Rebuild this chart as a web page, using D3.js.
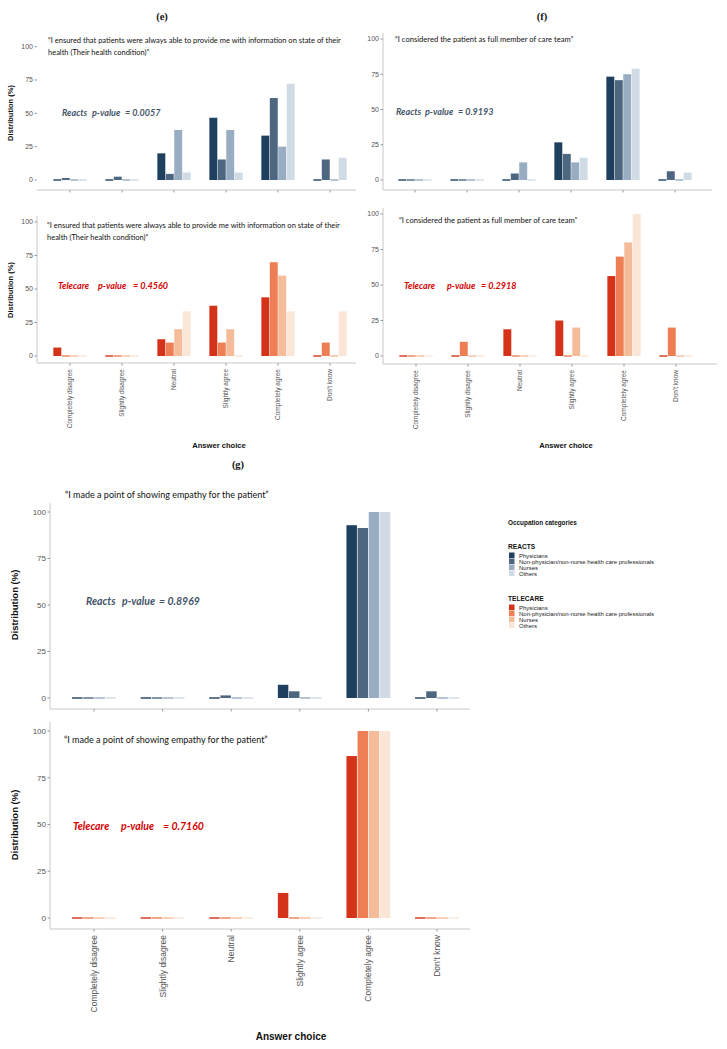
<!DOCTYPE html>
<html><head><meta charset="utf-8">
<script src="https://cdn.jsdelivr.net/npm/d3@7"></script>
<style>body{margin:0;background:#fff}svg{display:block}</style>
</head><body>
<script>
// ---------- DATA ----------
const categories = ["Completely disagree","Slightly disagree","Neutral","Slightly agree","Completely agree","Don't know"];
const occupations = ["Physicians","Non-physician/non-nurse health care professionals","Nurses","Others"];
const yTicks = [0,25,50,75,100];
const reactsColors = ["#1e3f5e","#4e6780","#98adc1","#d0dbe5"];
const telecareColors = ["#d5321a","#ee7f55","#f5bc9a","#fae5d6"];

const quoteE = ["\u201CI ensured that patients were always able to provide me with information on state of their","health (Their health condition)\u201D"];
const quoteF = ["\u201CI considered the patient as full member of care team\u201D"];
const quoteG = ["\u201CI made a point of showing empathy for the patient\u201D"];

// each row: one answer category; columns: Physicians, Non-physician, Nurses, Others (%)
const eReacts   = [[0,1.5,0,0],[0,2.5,0,0],[20,4.6,37.5,5.6],[46.7,15.4,37.5,5.6],[33.3,61.5,25,72.2],[0,15.4,0,16.7]];
const eTelecare = [[6.3,0,0,0],[0,0,0,0],[12.5,10,20,33.3],[37.5,10,20,0],[43.8,70,60,33.3],[0,10,0,33.3]];
const fReacts   = [[0,0,0,0],[0,0,0,0],[0,4.6,12.5,0],[26.7,18.5,12.5,15.8],[73.3,70.8,75,78.9],[0,6.2,0,5.3]];
const fTelecare = [[0,0,0,0],[0,10,0,0],[18.8,0,0,0],[25,0,20,0],[56.3,70,80,100],[0,20,0,0]];
const gReacts   = [[0,0,0,0],[0,0,0,0],[0,1.4,0,0],[7.1,3.6,0,0],[92.9,91.4,100,100],[0,3.6,0,0]];
const gTelecare = [[0,0,0,0],[0,0,0,0],[0,0,0,0],[13.4,0,0,0],[86.6,100,100,100],[0,0,0,0]];

const pValues = {eR:"0.0057", eT:"0.4560", fR:"0.9193", fT:"0.2918", gR:"0.8969", gT:"0.7160"};

// ---------- DRAW ----------
const W = 727, H = 1049;
const svg = d3.select("body").append("svg").attr("width", W).attr("height", H);

const REACTS_TXT = "#44546a", TELE_TXT = "#d40000";
const sans = "'Liberation Sans', Arial, sans-serif";
const quoteFont = "Lato, 'Open Sans', sans-serif";

function drawPanel(o) {
  const g = svg.append("g");
  const x = d3.scaleBand().domain(categories).range([o.x0, o.x1]).paddingInner(0.36).paddingOuter(0.18);
  const xs = d3.scaleBand().domain(d3.range(4)).range([0, x.bandwidth()]).paddingInner(0.06);
  const y = d3.scaleLinear().domain([0,100]).range([o.y0, o.y100]);

  g.append("line").attr("x1", o.axX).attr("x2", o.axRight).attr("y1", o.axY).attr("y2", o.axY)
    .attr("stroke", "#c8c8c8").attr("stroke-width", 1);
  if (o.leftAxis) g.append("line").attr("x1", o.axX).attr("x2", o.axX).attr("y1", o.axTop).attr("y2", o.axY)
    .attr("stroke", "#c8c8c8").attr("stroke-width", 1);

  const yt = g.append("g");
  yTicks.forEach(t => {
    yt.append("line").attr("x1", o.axX - 2.5).attr("x2", o.axX).attr("y1", y(t)).attr("y2", y(t)).attr("stroke", "#999");
    yt.append("text").attr("x", o.axX - 4).attr("y", y(t)).attr("dy", "0.35em").attr("text-anchor", "end")
      .attr("font-family", sans).attr("font-size", o.tickFs).attr("fill", "#555").text(t);
  });
  categories.forEach(c => {
    const cx = x(c) + x.bandwidth()/2;
    g.append("line").attr("x1", cx).attr("x2", cx).attr("y1", o.axY).attr("y2", o.axY + 2.5).attr("stroke", "#999");
    if (o.xLabels) {
      g.append("text").attr("transform", `translate(${cx + o.lblFs*0.35},${o.axY + 6}) rotate(-90)`)
        .attr("text-anchor", "end").attr("font-family", sans).attr("font-size", o.lblFs).attr("fill", "#555").text(c);
    }
  });

  const rows = o.data.map((vals, i) => ({cat: categories[i], vals}));
  g.selectAll("g.grp").data(rows).join("g").attr("class","grp")
    .attr("transform", d => `translate(${x(d.cat)},0)`)
    .selectAll("rect").data(d => d.vals.map((v, j) => ({v, j}))).join("rect")
      .attr("x", d => xs(d.j)).attr("width", xs.bandwidth())
      .attr("y", d => d.v > 0 ? y(d.v) : y(0) - 0.7)
      .attr("height", d => d.v > 0 ? y(0) - y(d.v) : 1.4)
      .attr("fill", d => o.colors[d.j]);

  o.quote.forEach((line, i) => {
    g.append("text").attr("x", o.qX).attr("y", o.qY + i*o.qLH).attr("font-family", quoteFont)
      .attr("font-size", o.qFs).attr("fill", "#111").text(line);
  });
  // p-value: three words placed at measured offsets
  o.pParts.forEach((w, i) => {
    g.append("text").attr("x", o.pX[i]).attr("y", o.pY).attr("font-family", quoteFont).attr("font-weight", "bold")
      .attr("font-style", "italic").attr("font-size", o.pFs).attr("fill", o.pColor).text(w);
  });
  if (o.yTitle) {
    g.append("text").attr("transform", `translate(${o.ytX},${o.ytY}) rotate(-90)`).attr("text-anchor", "middle")
      .attr("font-family", sans).attr("font-weight", "bold").attr("font-size", o.ytFs).attr("fill", "#111")
      .text("Distribution (%)");
  }
}

drawPanel({data: eReacts, colors: reactsColors, x0: 44, x1: 356, y0: 180, y100: 46.7, axX: 37, axRight: 356, axY: 190, axTop: 40,
  leftAxis: false, tickFs: 7, xLabels: false, lblFs: 6.5,
  quote: quoteE, qX: 48, qY: 42.5, qLH: 12.5, qFs: 7.5,
  pParts: ["Reacts", "p-value", "= " + pValues.eR], pX: [62, 92, 125], pY: 116, pFs: 9, pColor: REACTS_TXT,
  yTitle: true, ytX: 12.5, ytY: 113, ytFs: 7.5});
drawPanel({data: eTelecare, colors: telecareColors, x0: 44, x1: 356, y0: 356, y100: 222, axX: 37, axRight: 356, axY: 363, axTop: 216,
  leftAxis: true, tickFs: 7, xLabels: true, lblFs: 6.5,
  quote: quoteE, qX: 47, qY: 228, qLH: 11.5, qFs: 7.5,
  pParts: ["Telecare", "p-value", "= " + pValues.eT], pX: [58, 98, 133], pY: 289, pFs: 9, pColor: TELE_TXT,
  yTitle: true, ytX: 12.5, ytY: 290, ytFs: 7.5});

drawPanel({data: fReacts, colors: reactsColors, x0: 389, x1: 701, y0: 180, y100: 39, axX: 383, axRight: 712, axY: 190, axTop: 33,
  leftAxis: true, tickFs: 7, xLabels: false, lblFs: 6.5,
  quote: quoteF, qX: 395, qY: 41.5, qLH: 12, qFs: 7.6,
  pParts: ["Reacts", "p-value", "= " + pValues.fR], pX: [396, 425, 458], pY: 115, pFs: 9, pColor: REACTS_TXT,
  yTitle: false});
drawPanel({data: fTelecare, colors: telecareColors, x0: 390, x1: 702, y0: 356, y100: 214, axX: 383, axRight: 717, axY: 364, axTop: 208,
  leftAxis: true, tickFs: 7, xLabels: true, lblFs: 6.5,
  quote: quoteF, qX: 399, qY: 222.5, qLH: 12, qFs: 7.6,
  pParts: ["Telecare", "p-value", "= " + pValues.fT], pX: [404, 447, 481], pY: 289, pFs: 9, pColor: TELE_TXT,
  yTitle: false});

drawPanel({data: gReacts, colors: reactsColors, x0: 59.7, x1: 471.3, y0: 698, y100: 512, axX: 50, axRight: 470, axY: 709, axTop: 503,
  leftAxis: true, tickFs: 8, xLabels: false, lblFs: 8.5,
  quote: quoteG, qX: 65, qY: 498, qLH: 12, qFs: 9,
  pParts: ["Reacts", "p-value", "= " + pValues.gR], pX: [86, 122, 159], pY: 605, pFs: 10.5, pColor: REACTS_TXT,
  yTitle: true, ytX: 18, ytY: 605, ytFs: 9.5});
drawPanel({data: gTelecare, colors: telecareColors, x0: 59.7, x1: 471.3, y0: 918, y100: 731, axX: 50, axRight: 470, axY: 929, axTop: 722,
  leftAxis: true, tickFs: 8, xLabels: true, lblFs: 8.5,
  quote: quoteG, qX: 64, qY: 743, qLH: 12, qFs: 9,
  pParts: ["Telecare", "p-value", "= " + pValues.gT], pX: [73, 121, 163], pY: 830, pFs: 10.5, pColor: TELE_TXT,
  yTitle: true, ytX: 18, ytY: 825, ytFs: 9.5});

[[219, 448, 7.6], [566, 448, 7.6], [291, 1040, 10]].forEach(([ax, ay, fs]) => {
  svg.append("text").attr("x", ax).attr("y", ay).attr("text-anchor", "middle").attr("font-family", sans)
    .attr("font-weight", "bold").attr("font-size", fs).attr("fill", "#111").text("Answer choice");
});

[["(e)", 162, 20], ["(f)", 542, 20], ["(g)", 238, 468]].forEach(([t, px, py]) => {
  svg.append("text").attr("x", px).attr("y", py).attr("text-anchor", "middle")
    .attr("font-family", "'Liberation Serif', 'Times New Roman', serif").attr("font-weight", "bold")
    .attr("font-size", 10.5).attr("fill", "#111").text(t);
});

const lg = svg.append("g").attr("font-family", sans);
lg.append("text").attr("x", 508).attr("y", 524.5).attr("font-weight", "bold").attr("font-size", 6.4).attr("fill", "#111").text("Occupation categories");
[["REACTS", reactsColors, 548.5], ["TELECARE", telecareColors, 600.5]].forEach(([name, cols, gy]) => {
  lg.append("text").attr("x", 508).attr("y", gy).attr("font-weight", "bold").attr("font-size", 6.6).attr("fill", "#111").text(name);
  occupations.forEach((occ, i) => {
    const ry = gy + 4 + i*6;
    lg.append("rect").attr("x", 509).attr("y", ry).attr("width", 5.5).attr("height", 5.5).attr("fill", cols[i]);
    lg.append("text").attr("x", 519).attr("y", ry + 5).attr("font-size", 6).attr("fill", "#222").text(occ);
  });
});
</script>
</body></html>
